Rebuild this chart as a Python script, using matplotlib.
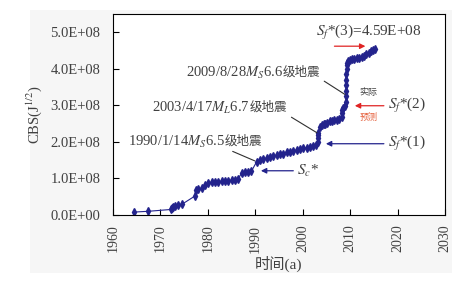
import matplotlib.pyplot as plt
from matplotlib.patches import Rectangle

plt.rcParams['font.family'] = ['Liberation Serif', 'Noto Sans CJK SC']
plt.rcParams['mathtext.fontset'] = 'stix'

# cumulative Benioff strain, values in units of 1e8
years = [1964.5, 1967.4, 1972.2, 1972.4, 1972.6, 1973.1, 1973.8, 1974.5,
         1977.3, 1977.4, 1978.0, 1978.7, 1979.4, 1980.1, 1980.8, 1981.5,
         1982.2, 1982.9, 1983.6, 1984.3, 1985.0, 1985.7, 1986.4, 1987.1,
         1987.8, 1988.5, 1989.2, 1990.3, 1991.0, 1991.7, 1992.4, 1993.1,
         1993.8, 1994.5, 1995.2, 1995.9, 1996.6, 1997.3, 1998.0, 1998.7,
         1999.4, 2000.1, 2000.8, 2001.5, 2002.2, 2002.9, 2003.2, 2003.2,
         2003.3, 2003.3, 2003.6, 2004.0, 2004.4, 2004.8, 2005.2, 2005.7,
         2006.2, 2006.7, 2007.2, 2007.7, 2008.2, 2008.3, 2008.3, 2008.4,
         2009.0, 2009.2, 2009.2, 2009.2, 2009.2, 2009.2, 2009.2, 2009.3,
         2009.3, 2009.4, 2009.6, 2010.0, 2010.4, 2010.9, 2011.4, 2011.9,
         2012.4, 2012.9, 2013.4, 2013.9, 2014.4, 2014.9, 2015.2]
cbs = [0.08, 0.10, 0.15, 0.18, 0.22, 0.25, 0.27, 0.29,
       0.52, 0.69, 0.71, 0.73, 0.82, 0.87, 0.89, 0.90,
       0.91, 0.92, 0.93, 0.94, 0.95, 0.97, 0.98, 1.15,
       1.17, 1.18, 1.20, 1.46, 1.51, 1.53, 1.56, 1.58,
       1.61, 1.63, 1.66, 1.68, 1.71, 1.73, 1.75, 1.78,
       1.80, 1.82, 1.84, 1.87, 1.89, 1.92, 2.00, 2.10,
       2.20, 2.25, 2.42, 2.46, 2.48, 2.50, 2.53, 2.56,
       2.57, 2.59, 2.61, 2.64, 2.68, 2.79, 2.86, 2.93,
       2.99, 3.10, 3.25, 3.40, 3.55, 3.70, 3.85, 4.00,
       4.10, 4.17, 4.21, 4.24, 4.26, 4.28, 4.30, 4.31,
       4.33, 4.36, 4.40, 4.44, 4.48, 4.52, 4.55]

x_ticks = [1960, 1970, 1980, 1990, 2000, 2010, 2020, 2030]
y_ticks = [0, 1, 2, 3, 4, 5]
y_ticklabels = ['0.0E+00', '1.0E+08', '2.0E+08', '3.0E+08', '4.0E+08', '5.0E+08']

# (date + magnitude, target point on curve, label anchor, arrow start)
quakes = [
    (r'2009/8/28$M_S$6.6', (2008.9, 3.30e8), (1995.8, 3.90e8), (1, 0)),
    (r'2003/4/17$M_L$6.7', (2003.0, 2.25e8), (1988.9, 2.94e8), (0.95, 0)),
    (r'1990/1/14$M_S$6.5', (1989.9, 1.48e8), (1983.6, 2.00e8), (0, 0)),
]

navy = '#23238c'
red = '#e02424'
grey = '#404040'

fig = plt.figure(figsize=(4.65, 2.81), dpi=100)
fig.patches.append(Rectangle((0.065, 0.028), 0.907, 0.936, transform=fig.transFigure,
                             facecolor='#f6f6f6', edgecolor='none', zorder=-1))
ax = fig.add_axes([0.243, 0.235, 0.714, 0.715])

ax.plot(years, [v * 1e8 for v in cbs], color=navy, lw=0.8, marker='d', ms=3.8,
        mec=navy, mfc=navy)

ax.set_xlim(1960, 2030)
ax.set_ylim(0, 5.5e8)
ax.set_xticks(x_ticks)
ax.set_xticklabels([str(t) for t in x_ticks], rotation=90, fontsize=10, color=grey)
ax.set_yticks([t * 1e8 for t in y_ticks])
ax.set_yticklabels(y_ticklabels, fontsize=10.5, color=grey)
ax.tick_params(direction='in', length=4, width=0.8)
ax.tick_params(axis='y', pad=9)
ax.tick_params(axis='x', pad=7)
ax.set_xlabel('时间(a)', fontsize=11, color=grey, labelpad=2)
ax.set_ylabel(r'CBS(J$^{1/2}$)', fontsize=10.5, color=grey, labelpad=5)

for label, target, anchor, relpos in quakes:
    ax.text(anchor[0], anchor[1], label, fontsize=10.5, color=grey,
            ha='right', va='center')
    ax.annotate('级地震', xy=target, xytext=anchor, fontsize=9, color=grey,
                ha='left', va='center',
                arrowprops=dict(arrowstyle='-', color='#303030', lw=0.8,
                                relpos=relpos, shrinkA=1, shrinkB=0))

blue_arrow = dict(arrowstyle='-|>', color=navy, lw=0.9, mutation_scale=8)
red_arrow = dict(arrowstyle='-|>', color=red, lw=0.9, mutation_scale=8)

ax.annotate('', xy=(1990.6, 1.21e8), xytext=(1998.6, 1.21e8), arrowprops=blue_arrow)
ax.text(1998.9, 1.21e8, r'$S_c$*', fontsize=11, color=grey, va='center')

ax.annotate('', xy=(2004.3, 1.95e8), xytext=(2017.7, 1.95e8), arrowprops=blue_arrow)
ax.text(2017.9, 1.95e8, r'$S_f$*(1)', fontsize=11, color=grey, va='center')

ax.annotate('', xy=(2010.4, 2.99e8), xytext=(2017.7, 2.99e8), arrowprops=red_arrow)
ax.text(2017.9, 2.99e8, r'$S_f$*(2)', fontsize=11, color=grey, va='center')
ax.text(2013.9, 3.36e8, '实际', fontsize=6.5, color=grey, ha='center', va='center')
ax.text(2013.9, 2.66e8, '预测', fontsize=6.5, color='#e5603c', ha='center', va='center')

ax.annotate('', xy=(2013.8, 4.62e8), xytext=(2006.1, 4.62e8), arrowprops=red_arrow)
ax.text(2014.0, 5.0e8, r'$S_f$*(3)=4.59E+08', fontsize=11, color=grey,
        ha='center', va='center')

fig.savefig('out.png', dpi=100)
